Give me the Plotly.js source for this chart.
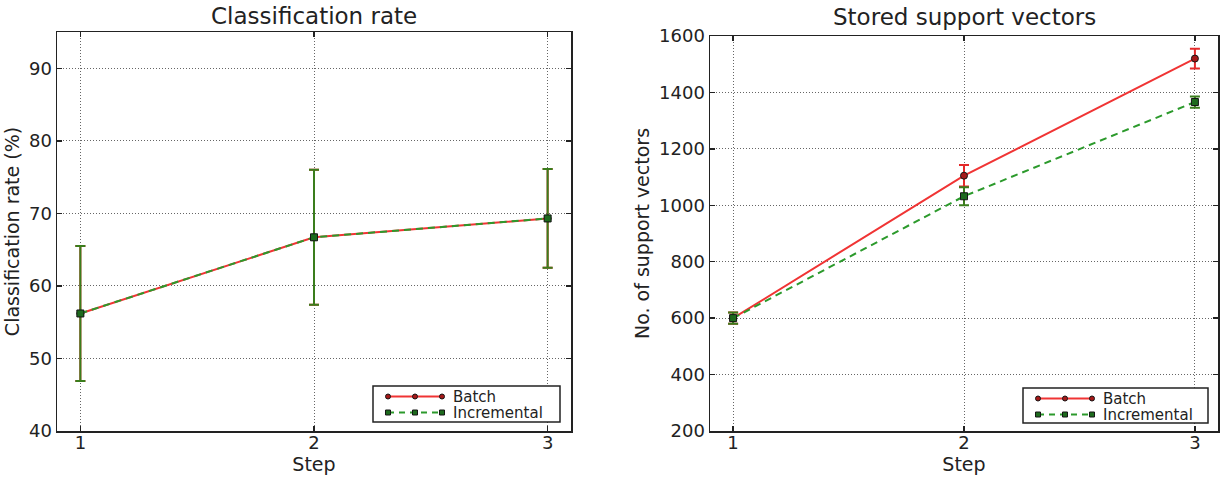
<!DOCTYPE html>
<html>
<head>
<meta charset="utf-8">
<script src="https://cdn.plot.ly/plotly-3.0.1.min.js"></script>
<style>
  html, body { margin: 0; padding: 0; background: #fff; }
  #chart { width: 1231px; height: 479px; }
</style>
</head>
<body>
<div id="chart"></div>
<script>
// Training steps
const steps = [1, 2, 3];
const seriesNames = ['Batch', 'Incremental'];

// Classification rate (%) with standard deviation
const rateBatch = [56.2, 66.7, 69.3];
const rateBatchErr = [9.3, 9.3, 6.8];
const rateIncremental = [56.2, 66.7, 69.3];
const rateIncrementalErr = [9.3, 9.3, 6.8];

// Number of stored support vectors with standard deviation
const svBatch = [600, 1105, 1520];
const svBatchErr = [20, 38, 35];
const svIncremental = [600, 1032, 1366];
const svIncrementalErr = [20, 32, 20];

const W = 1231, H = 479;
const FONT = 'DejaVu Sans, Verdana, sans-serif';
const INK = '#222';

// Per-series styling: solid red circles and dashed green squares
const styles = [
  { line: '#f03434', err: '#e42a2a', mark: '#a51818', symbol: 'circle', dash: 'solid' },
  { line: '#2c9a2c', err: '#3a7d1c', mark: '#1d6a1d', symbol: 'square', dash: '7px,5px' }
];

function series(y, err, k, xa, ya) {
  const s = styles[k];
  return {
    x: steps, y: y, name: seriesNames[k], type: 'scatter', mode: 'lines+markers',
    xaxis: xa, yaxis: ya, showlegend: false,
    line: { color: s.line, width: 2, dash: s.dash },
    marker: { symbol: s.symbol, size: 7, color: s.mark, line: { color: '#151515', width: 1 } },
    error_y: { type: 'data', array: err, visible: true, color: s.err, thickness: 2, width: 5 }
  };
}

const data = [
  series(rateBatch, rateBatchErr, 0, 'x', 'y'),
  series(rateIncremental, rateIncrementalErr, 1, 'x', 'y'),
  series(svBatch, svBatchErr, 0, 'x2', 'y2'),
  series(svIncremental, svIncrementalErr, 1, 'x2', 'y2')
];

const px = v => v / W;          // horizontal pixel -> paper
const py = v => 1 - v / H;      // vertical pixel -> paper

const axisCommon = {
  showline: true, linecolor: INK, linewidth: 1.5, mirror: 'allticks',
  ticks: 'inside', ticklen: 5, tickwidth: 1.5, tickcolor: INK,
  showgrid: true, gridcolor: '#666', gridwidth: 1, griddash: '1px,2px',
  zeroline: false,
  tickfont: { family: FONT, size: 18, color: INK }
};
const labelFont = { family: FONT, size: 19, color: INK };

// Boxed legend drawn inside each panel (line sample with three markers + label)
const shapes = [];
const annotations = [];
function drawLegend(left, top, right, bottom) {
  shapes.push({ type: 'rect', xref: 'paper', yref: 'paper',
    x0: px(left), x1: px(right), y0: py(bottom), y1: py(top),
    line: { color: INK, width: 1.5 }, fillcolor: '#fff', layer: 'above' });
  seriesNames.forEach((name, k) => {
    const s = styles[k];
    const yc = top + 10.5 + k * 16;
    const x0 = left + 15, x1 = left + 69;
    shapes.push({ type: 'line', xref: 'paper', yref: 'paper',
      x0: px(x0), x1: px(x1), y0: py(yc), y1: py(yc),
      line: { color: s.line, width: 2, dash: k === 0 ? 'solid' : '6px,5px' }, layer: 'above' });
    [x0, (x0 + x1) / 2, x1].forEach(xm => {
      shapes.push({ type: k === 0 ? 'circle' : 'rect', xref: 'paper', yref: 'paper',
        x0: px(xm - 2.5), x1: px(xm + 2.5), y0: py(yc + 2.5), y1: py(yc - 2.5),
        fillcolor: s.mark, line: { color: '#151515', width: 1 }, layer: 'above' });
    });
    annotations.push({ text: name, xref: 'paper', yref: 'paper', x: px(left + 79), y: py(yc),
      xanchor: 'left', yanchor: 'middle', showarrow: false, borderpad: 0,
      font: { family: FONT, size: 15, color: INK } });
  });
}
drawLegend(373, 386, 560, 422);
drawLegend(1023, 388, 1208, 423);

annotations.push(
  { text: 'Classification rate', xref: 'paper', yref: 'paper', x: px(314), y: py(16),
    xanchor: 'center', yanchor: 'middle', showarrow: false,
    font: { family: FONT, size: 23, color: INK } },
  { text: 'Stored support vectors', xref: 'paper', yref: 'paper', x: px(964), y: py(17),
    xanchor: 'center', yanchor: 'middle', showarrow: false,
    font: { family: FONT, size: 23, color: INK } }
);

const layout = {
  width: W, height: H,
  margin: { l: 0, r: 0, t: 0, b: 0 },
  paper_bgcolor: '#fff', plot_bgcolor: '#fff',
  font: { family: FONT, color: INK },
  showlegend: false,
  xaxis: Object.assign({}, axisCommon, {
    domain: [px(57), px(571)], range: [0.9, 3.1],
    tickvals: steps, ticktext: ['1', '2', '3'], anchor: 'y', ticklabelstandoff: -5,
    title: { text: 'Step', font: labelFont, standoff: 0 }
  }),
  yaxis: Object.assign({}, axisCommon, {
    domain: [py(431), py(32)], range: [40, 95], anchor: 'x',
    tickvals: [40, 50, 60, 70, 80, 90],
    title: { text: 'Classification rate (%)', font: labelFont, standoff: 4 }
  }),
  xaxis2: Object.assign({}, axisCommon, {
    domain: [px(710), px(1218)], range: [0.9, 3.1],
    tickvals: steps, ticktext: ['1', '2', '3'], anchor: 'y2', ticklabelstandoff: -5,
    title: { text: 'Step', font: labelFont, standoff: 0 }
  }),
  yaxis2: Object.assign({}, axisCommon, {
    domain: [py(431), py(36)], range: [200, 1600], anchor: 'x2',
    tickvals: [200, 400, 600, 800, 1000, 1200, 1400, 1600],
    title: { text: 'No. of support vectors', font: labelFont, standoff: 4 }
  }),
  shapes: shapes,
  annotations: annotations
};

Plotly.newPlot('chart', data, layout, { displayModeBar: false, staticPlot: true });
</script>
</body>
</html>
